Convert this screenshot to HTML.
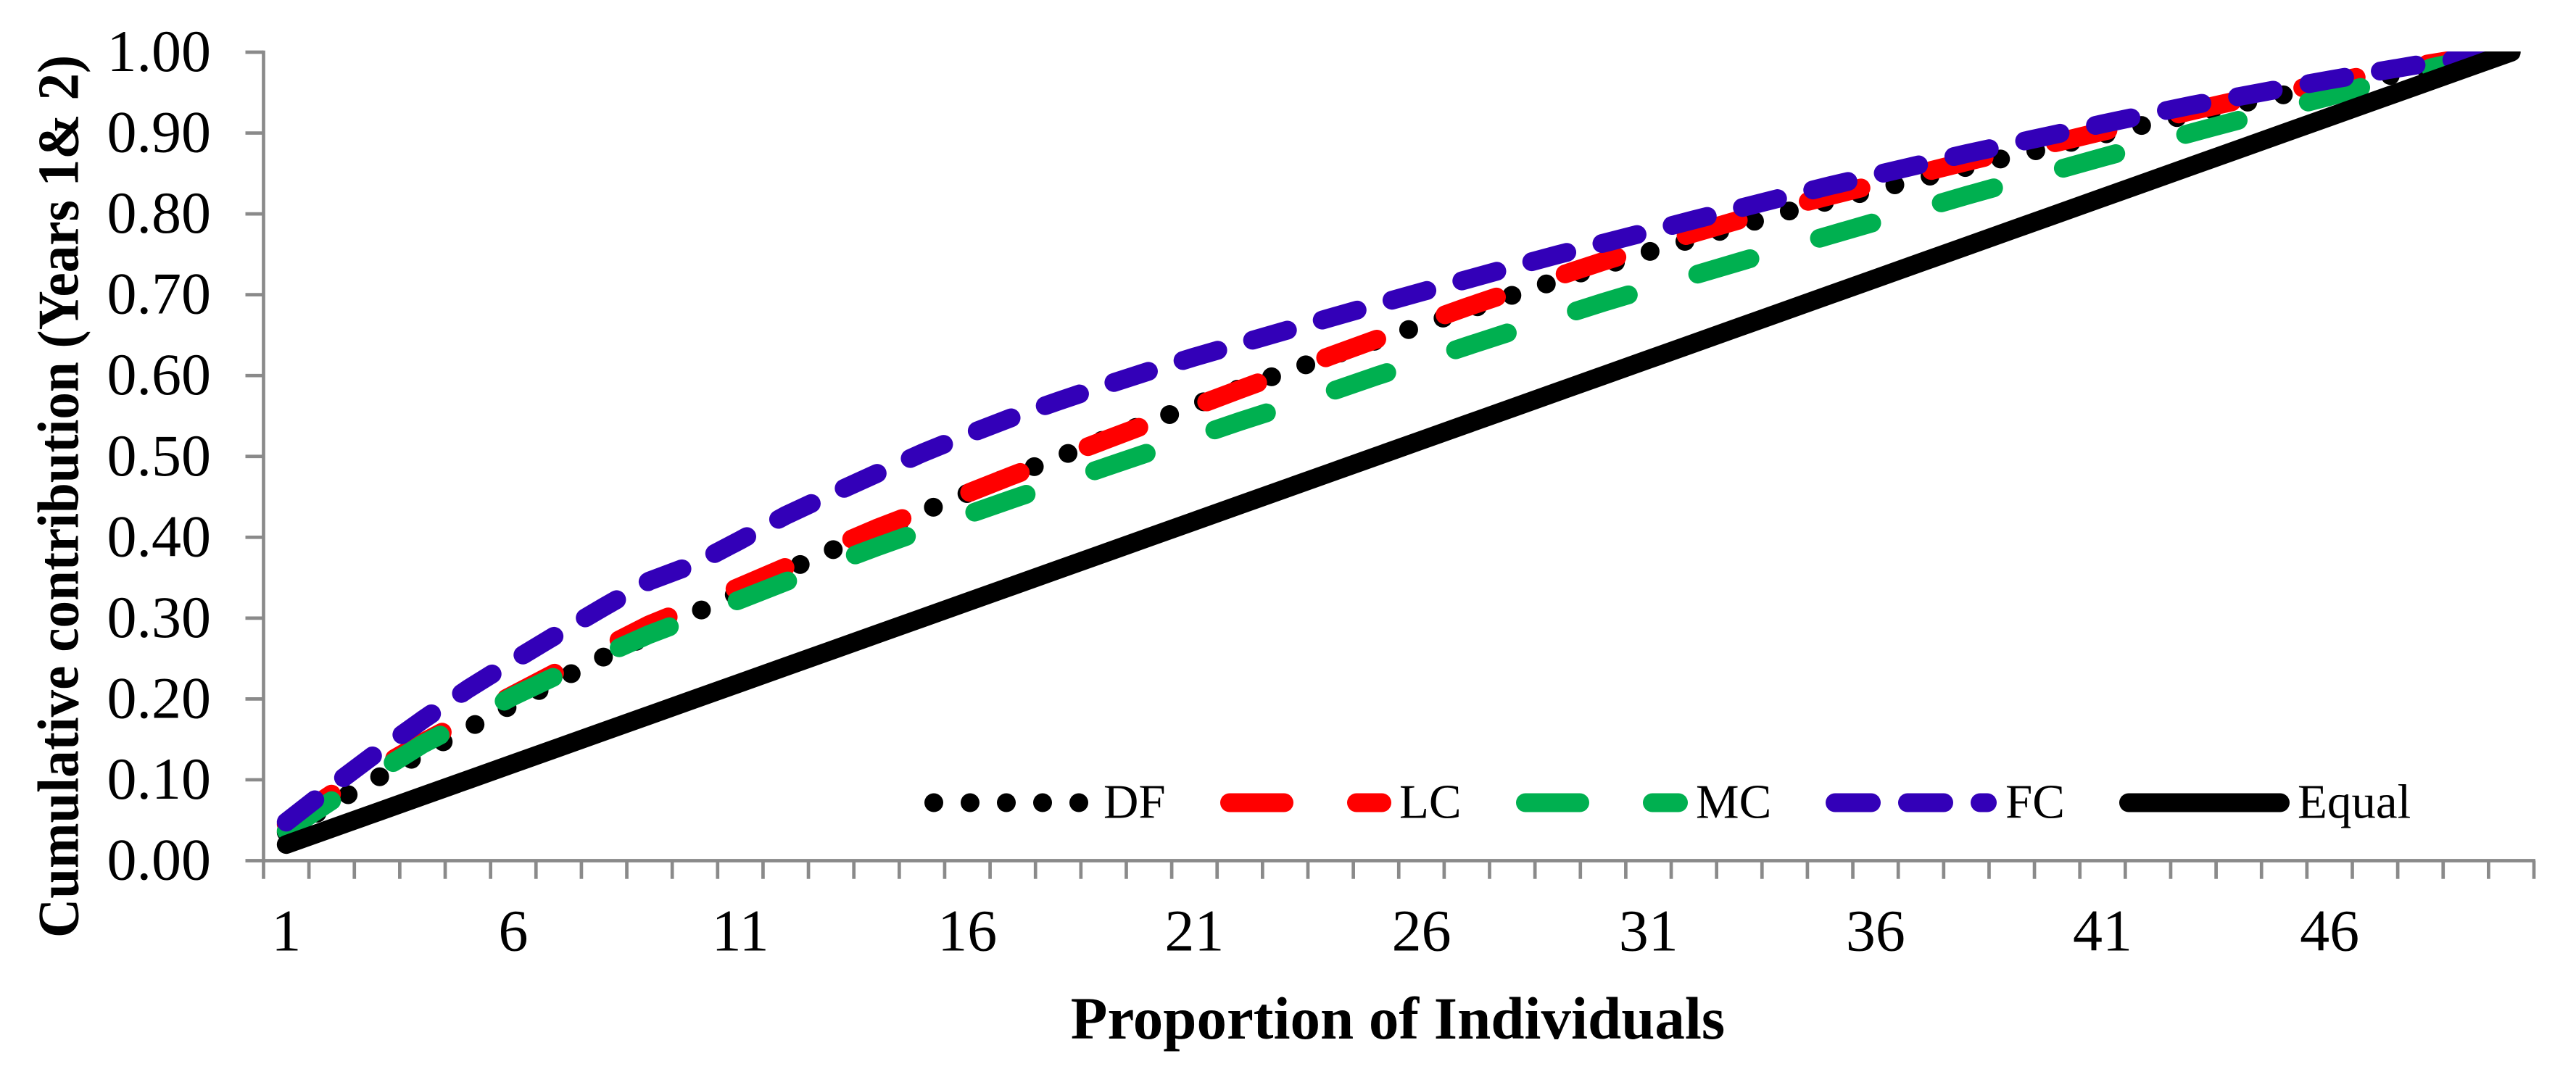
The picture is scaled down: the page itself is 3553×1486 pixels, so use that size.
<!DOCTYPE html>
<html lang="en">
<head>
<meta charset="utf-8">
<title>Cumulative contribution chart</title>
<style>
html,body{margin:0;padding:0;background:#fff;}
svg{display:block;font-family:"Liberation Serif",serif;}
</style>
</head>
<body>
<svg id="chart" xmlns="http://www.w3.org/2000/svg" width="3553" height="1486" viewBox="0 0 3553 1486">
  <defs>
    <clipPath id="plot-clip"><rect x="340" y="71" width="3180" height="1200"/></clipPath>
  </defs>
  <rect x="0" y="0" width="3553" height="1486" fill="#fff"/>
  <g id="axes"></g>
  <g id="series" clip-path="url(#plot-clip)"></g>
  <text transform="translate(107.5,685) rotate(-90)" text-anchor="middle" font-size="81" font-weight="bold" textLength="1218" lengthAdjust="spacingAndGlyphs">Cumulative contribution (Years 1&amp; 2)</text>
  <text x="1928" y="1433" text-anchor="middle" font-size="83" font-weight="bold">Proportion of Individuals</text>
  <g font-size="67">
    <g>
      <path d="M1288 1107.5H1489" fill="none" stroke="#000" stroke-width="26" stroke-linecap="round" stroke-dasharray="0 50"/>
      <text x="1522" y="1128.5">DF</text>
    </g>
    <g>
      <path d="M1696 1107.5H1906" fill="none" stroke="#ff0000" stroke-width="26" stroke-linecap="round" stroke-dasharray="75 100"/>
      <text x="1930" y="1128.5">LC</text>
    </g>
    <g>
      <path d="M2104 1107.5H2315" fill="none" stroke="#00b050" stroke-width="26" stroke-linecap="round" stroke-dasharray="75 100"/>
      <text x="2339" y="1128.5">MC</text>
    </g>
    <g>
      <path d="M2531 1107.5H2741" fill="none" stroke="#3300b8" stroke-width="26" stroke-linecap="round" stroke-dasharray="50 50"/>
      <text x="2766" y="1128.5">FC</text>
    </g>
    <g>
      <path d="M2936 1107.5H3145" fill="none" stroke="#000" stroke-width="26" stroke-linecap="round"/>
      <text x="3169" y="1128.5">Equal</text>
    </g>
  </g>
</svg>
<script>
const categories = [1,2,3,4,5,6,7,8,9,10,11,12,13,14,15,16,17,18,19,20,21,22,23,24,25,26,27,28,29,30,31,32,33,34,35,36,37,38,39,40,41,42,43,44,45,46,47,48,49,50];
const xTickLabels = [1,6,11,16,21,26,31,36,41,46];
const yTickLabels = ["0.00","0.10","0.20","0.30","0.40","0.50","0.60","0.70","0.80","0.90","1.00"];
const dfValues = [.035,.070,.102,.133,.1637,.1935,.2233,.2522,.2793,.3063,.3324,.3583,.3836,.4075,.4314,.4543,.4768,.499,.5206,.5422,.5634,.5842,.6046,.6238,.6432,.6623,.6808,.6994,.7180,.7355,.7530,.7692,.7853,.8022,.8160,.8300,.8440,.8577,.8712,.8843,.8979,.9112,.9236,.9360,.9475,.9576,.9677,.978,.989,1];
const lcValues = [.045,.0824,.114,.146,.1757,.2052,.2345,.2635,.292,.315,.339,.363,.387,.411,.4327,.4544,.4766,.498,.5195,.5407,.5617,.5828,.6036,.6243,.6447,.6647,.6848,.7037,.7227,.7412,.7587,.7762,.7925,.808,.8225,.8365,.8505,.8645,.878,.8885,.902,.9145,.928,.9405,.9515,.9624,.9735,.984,.993,1];
const mcValues = [.037,.0742,.109,.144,.173,.2034,.230,.255,.28,.3013,.323,.345,.367,.388,.408,.4279,.4475,.4667,.4860,.505,.5242,.5433,.5613,.580,.5993,.6178,.6365,.6547,.6726,.6905,.7073,.7241,.7407,.7572,.7737,.7900,.8063,.8227,.8385,.8543,.8700,.8854,.9009,.9159,.9306,.9453,.9615,.978,.990,1];
const fcValues = [.0477,.0916,.1338,.174,.2123,.2472,.281,.314,.346,.367,.3965,.427,.4532,.4787,.504,.5269,.5485,.5684,.5873,.6055,.623,.6392,.6554,.6717,.6877,.7034,.7188,.7343,.7495,.7637,.7781,.7927,.8069,.8211,.8349,.8481,.8613,.8745,.8867,.8989,.9114,.9232,.9348,.9451,.9555,.9657,.9755,.985,.993,1];
const equalValues = [.02,.04,.06,.08,.10,.12,.14,.16,.18,.20,.22,.24,.26,.28,.30,.32,.34,.36,.38,.40,.42,.44,.46,.48,.50,.52,.54,.56,.58,.60,.62,.64,.66,.68,.70,.72,.74,.76,.78,.80,.82,.84,.86,.88,.90,.92,.94,.96,.98,1];

const NS = "http://www.w3.org/2000/svg";
const plotLeft = 363.5, plotRight = 3495, plotBottom = 1187.5, plotTop = 72;
const axisColor = "#8a8a8a";
const axisWidth = 4.7;
const bandWidth = (plotRight - plotLeft) / categories.length;
function xScale(category) {
  return plotLeft + bandWidth * (categories.indexOf(category) + 0.5);
}
function yScale(value) {
  return plotBottom - (plotBottom - plotTop) * value;
}
function make(tag, attrs, parent) {
  const el = document.createElementNS(NS, tag);
  Object.keys(attrs).forEach(function (k) { el.setAttribute(k, attrs[k]); });
  parent.appendChild(el);
  return el;
}

const axes = document.getElementById("axes");
const yAxisLine = make("line", {x1: plotLeft, x2: plotLeft, y1: plotTop - 2.3, y2: plotBottom + 2.3, stroke: axisColor, "stroke-width": axisWidth}, axes);


const xAxisLine = make("line", {x1: plotLeft, x2: plotRight + 2, y1: plotBottom, y2: plotBottom, stroke: axisColor, "stroke-width": axisWidth}, axes);



yTickLabels.forEach(function (label) {
  const y = yScale(parseFloat(label));
  const tick = make("line", {x1: 338.5, x2: plotLeft, y1: y, y2: y, stroke: axisColor, "stroke-width": axisWidth}, axes);
  
  
  const text = make("text", {x: 291, y: y + 26, "text-anchor": "end", "font-size": 82}, axes);
  
  
  text.textContent = label;
});

for (let k = 0; k <= categories.length; k++) {
  const x = plotLeft + bandWidth * k;
  const tick = make("line", {x1: x, x2: x, y1: plotBottom, y2: 1212.7, stroke: axisColor, "stroke-width": axisWidth}, axes);
  
  
}

xTickLabels.forEach(function (label) {
  const text = make("text", {x: xScale(label), y: 1311.5, "text-anchor": "middle", "font-size": 82}, axes);
  
  
  text.textContent = label;
});

const seriesGroup = document.getElementById("series");
function drawSeries(values, color, dash, name) {
  const d = values.map(function (v, i) {
    return (i ? "L" : "M") + xScale(categories[i]).toFixed(2) + " " + yScale(v).toFixed(2);
  }).join(" ");
  const attrs = {d: d, fill: "none", stroke: color, "stroke-width": 26, "stroke-linecap": "round", "stroke-linejoin": "round"};
  if (dash) { attrs["stroke-dasharray"] = dash; }
  const path = make("path", attrs, seriesGroup);
  
  
}
drawSeries(dfValues, "#000", "0 50", "series-df");
drawSeries(lcValues, "#ff0000", "75 100", "series-lc");
drawSeries(mcValues, "#00b050", "75 100", "series-mc");
drawSeries(fcValues, "#3300b8", "50 50", "series-fc");
drawSeries(equalValues, "#000", null, "series-equal");
</script>
</body>
</html>
